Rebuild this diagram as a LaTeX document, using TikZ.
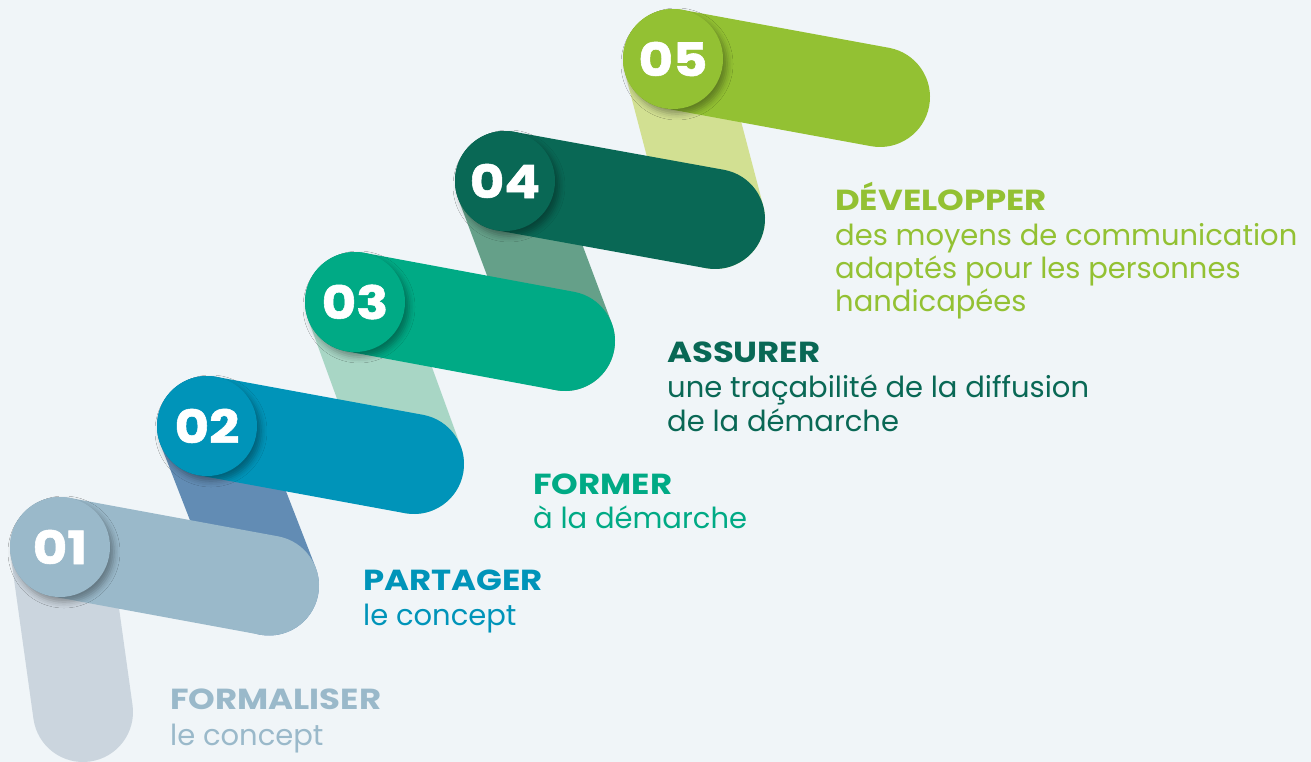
\documentclass[tikz,border=0pt]{standalone}
\usepackage{fontspec}
\setmainfont{Poppins}
\usetikzlibrary{calc,shadows.blur}
\definecolor{bg}{HTML}{F0F5F8}
\definecolor{cA}{HTML}{9AB9CA}\definecolor{vA}{HTML}{CBD5DE}
\definecolor{cB}{HTML}{0094B9}\definecolor{vB}{HTML}{628CB4}
\definecolor{cC}{HTML}{00AA85}\definecolor{vC}{HTML}{A8D6C5}
\definecolor{cD}{HTML}{096855}\definecolor{vD}{HTML}{65A089}
\definecolor{cE}{HTML}{93C133}\definecolor{vE}{HTML}{D2E092}
\tikzset{
  band/.style={line width=100pt, line cap=round},
  disc/.style={circle, minimum size=100pt, inner sep=0pt, text=white,
    font=\fontsize{46}{46}\selectfont\bfseries\addfontfeature{FakeStretch=1.15,FakeBold=1.2},
    blur shadow={shadow xshift=4pt, shadow yshift=-5pt, shadow blur radius=6pt, shadow opacity=35}},
  head/.style={anchor=base west, inner sep=0pt, font=\fontsize{29}{29}\selectfont\bfseries\addfontfeature{FakeStretch=1.17}},
  body/.style={anchor=base west, inner sep=0pt, font=\fontsize{29}{29}\selectfont},
}
\begin{document}
\begin{tikzpicture}[x=1pt,y=-1pt]
\fill[bg] (0,0) rectangle (1311,762);
\useasboundingbox (0,0) rectangle (1311,762);
% centres
\coordinate (c1) at (60,547);
\coordinate (c2) at (207,426);
\coordinate (c3) at (355,302);
\coordinate (c4) at (505,181);
\coordinate (c5) at (673,59);
\coordinate (e0) at (83,712);
\coordinate (e1) at ($(c1)+(209,38.5)$);
\coordinate (e2) at ($(c2)+(207,38)$);
\coordinate (e3) at ($(c3)+(210,39)$);
\coordinate (e4) at ($(c4)+(210,38)$);
\coordinate (e5) at ($(c5)+(207,38)$);
% vertical (folded) ribbons
\draw[band, vA] (c1) -- (e0);
\draw[band, vB] (c2) -- (e1);
\draw[band, vC] (c3) -- (e2);
\draw[band, vD] (c4) -- (e3);
\draw[band, vE] (c5) -- (e4);
% horizontal ribbons
\draw[band, cA] (c1) -- (e1);
\draw[band, cB] (c2) -- (e2);
\draw[band, cC] (c3) -- (e3);
\draw[band, cD] (c4) -- (e4);
\draw[band, cE] (c5) -- (e5);
% discs
\node[disc, fill=cA] (n1) at (c1) {01};
\node[disc, fill=cB] (n2) at (c2) {02};
\node[disc, fill=cC] (n3) at (c3) {03};
\node[disc, fill=cD] (n4) at (c4) {04};
\node[disc, fill=cE] (n5) at (c5) {05};
% texts
\node[head, text=cE] (h5) at (835,211) {DÉVELOPPER};
\node[body, text=cE] (b5a) at (835,245) {des moyens de communication};
\node[body, text=cE] (b5b) at (835,278) {adaptés pour les personnes};
\node[body, text=cE] (b5c) at (835,311) {handicapées};
\node[head, text=cD] (h4) at (667,362) {ASSURER};
\node[body, text=cD] (b4a) at (667,397) {une traçabilité de la diffusion};
\node[body, text=cD] (b4b) at (667,431) {de la démarche};
\node[head, text=cC] (h3) at (533,494) {FORMER};
\node[body, text=cC] (b3a) at (533,528) {à la démarche};
\node[head, text=cB] (h2) at (363,590) {PARTAGER};
\node[body, text=cB] (b2a) at (363,625) {le concept};
\node[head, text=cA] (h1) at (170,709) {FORMALISER};
\node[body, text=cA] (b1a) at (170,745) {le concept};
\end{tikzpicture}
\end{document}
